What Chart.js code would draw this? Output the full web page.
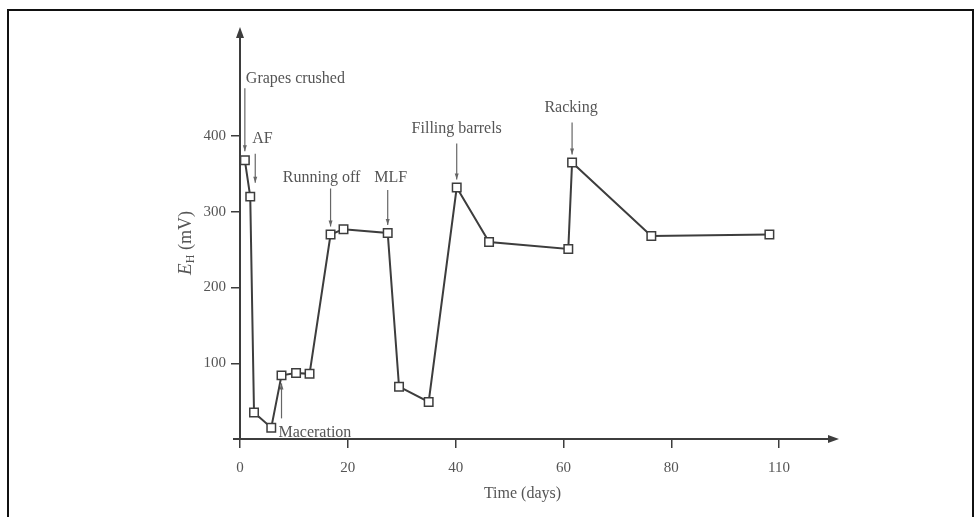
<!DOCTYPE html>
<html>
<head>
<meta charset="utf-8">
<script src="https://cdn.jsdelivr.net/npm/chart.js@4.4.0/dist/chart.umd.min.js"></script>
<style>
  html, body { margin: 0; padding: 0; background: #fff; overflow: hidden; }
  #frame { position: absolute; left: 7px; top: 9px; width: 963px; height: 520px; border: 2px solid #111; border-bottom: none; }
  #wrap { position: absolute; left: 0; top: 0; width: 977px; height: 517px; }
</style>
</head>
<body>
<div id="frame"></div>
<div id="wrap"><canvas id="ehChart"></canvas></div>
<script>
// x values are in printed-axis units (the figure squeezes 80-110 days into one step)
const timePos = [0.9, 1.9, 2.6, 5.8, 7.7, 10.4, 12.9, 16.8, 19.2, 27.4, 29.5, 35.0, 40.2, 46.2, 60.9, 61.6, 76.3, 98.2];
const ehValues = [368, 320, 35, 15, 84, 87, 86, 270, 277, 272, 69, 49, 332, 260, 251, 365, 268, 270];

const xTickValues = [0, 20, 40, 60, 80, 100];
const xTickLabels = ['0', '20', '40', '60', '80', '110'];
const yTickValues = [100, 200, 300, 400];

const eventLabels = ['Grapes crushed', 'AF', 'Maceration', 'Running off', 'MLF', 'Filling barrels', 'Racking'];
const eventPoints = [0, 1, 4, 7, 9, 12, 15];

const INK = '#3d3d3d';
const TEXT = '#555';
const FONT = '"Liberation Serif", "DejaVu Serif", serif';

// how each label sits relative to the point it marks (pixels)
const eventStyle = {
  'Grapes crushed': { align: 'left', dx: 1, dy: -81, ax: 0, from: -72, to: -9 },
  'AF': { align: 'left', dx: 2, dy: -58, ax: 5, from: -43, to: -14 },
  'Maceration': { align: 'left', dx: -3, dy: 57, ax: 0, from: 43, to: 8 },
  'Running off': { align: 'center', dx: -9, dy: -57, ax: 0, from: -46, to: -8 },
  'MLF': { align: 'center', dx: 3, dy: -55, ax: 0, from: -43, to: -8 },
  'Filling barrels': { align: 'center', dx: 0, dy: -59, ax: 0, from: -44, to: -8 },
  'Racking': { align: 'center', dx: -1, dy: -55, ax: 0, from: -40, to: -8 }
};

function arrowHead(ctx, x, y, dir, len, half) {
  ctx.beginPath();
  if (dir === 'down') {
    ctx.moveTo(x, y); ctx.lineTo(x - half, y - len); ctx.lineTo(x + half, y - len);
  } else if (dir === 'up') {
    ctx.moveTo(x, y); ctx.lineTo(x - half, y + len); ctx.lineTo(x + half, y + len);
  } else {
    ctx.moveTo(x, y); ctx.lineTo(x - len, y - half); ctx.lineTo(x - len, y + half);
  }
  ctx.closePath();
  ctx.fill();
}

const figurePlugin = {
  id: 'figure',
  beforeDatasetsDraw(chart) {
    const ctx = chart.ctx;
    const a = chart.chartArea;
    ctx.save();
    ctx.strokeStyle = INK;
    ctx.fillStyle = INK;
    ctx.lineWidth = 2;
    // axes with arrow heads
    ctx.beginPath();
    ctx.moveTo(a.left, a.bottom);
    ctx.lineTo(a.left, a.top + 6);
    ctx.moveTo(a.left - 7, a.bottom);
    ctx.lineTo(a.right, a.bottom);
    ctx.stroke();
    arrowHead(ctx, a.left, a.top - 3, 'up', 11, 4);
    arrowHead(ctx, a.right + 6, a.bottom, 'right', 11, 4);

    // event arrows and labels
    const pts = chart.getDatasetMeta(0).data;
    ctx.lineWidth = 1.2;
    ctx.font = '16px ' + FONT;
    ctx.textBaseline = 'middle';
    eventLabels.forEach((label, i) => {
      const p = pts[eventPoints[i]];
      const s = eventStyle[label];
      const x = p.x + s.ax;
      ctx.strokeStyle = '#666';
      ctx.fillStyle = '#666';
      ctx.beginPath();
      ctx.moveTo(x, p.y + s.from);
      ctx.lineTo(x, p.y + s.to);
      ctx.stroke();
      arrowHead(ctx, x, p.y + s.to, s.to < s.from ? 'up' : 'down', 6, 2);
      ctx.fillStyle = TEXT;
      ctx.textAlign = s.align;
      ctx.fillText(label, p.x + s.dx, p.y + s.dy);
    });

    // axis titles
    ctx.fillStyle = TEXT;
    ctx.textAlign = 'center';
    ctx.font = '16px ' + FONT;
    ctx.fillText('Time (days)', (a.left + a.right) / 2 - 14, 494);

    ctx.translate(186, 243);
    ctx.rotate(-Math.PI / 2);
    ctx.textAlign = 'left';
    ctx.font = 'italic 19px ' + FONT;
    const w1 = ctx.measureText('E').width;
    ctx.font = '12px ' + FONT;
    const w2 = ctx.measureText('H').width;
    ctx.font = '18px ' + FONT;
    const w3 = ctx.measureText(' (mV)').width;
    let x0 = -(w1 + w2 + w3) / 2;
    ctx.font = 'italic 19px ' + FONT;
    ctx.fillText('E', x0, 0);
    ctx.font = '12px ' + FONT;
    ctx.fillText('H', x0 + w1, 5);
    ctx.font = '18px ' + FONT;
    ctx.fillText(' (mV)', x0 + w1 + w2, 0);
    ctx.restore();
  }
};

const ctx = document.getElementById('ehChart').getContext('2d');

new Chart(ctx, {
  type: 'line',
  data: {
    datasets: [{
      data: timePos.map((t, i) => ({ x: t, y: ehValues[i] })),
      borderColor: INK,
      borderWidth: 2,
      pointStyle: 'rect',
      pointRadius: 6,
      pointBorderWidth: 1.5,
      pointBorderColor: INK,
      pointBackgroundColor: '#fff',
      tension: 0
    }]
  },
  options: {
    responsive: true,
    maintainAspectRatio: false,
    animation: false,
    layout: { padding: { top: 30, right: 144, left: 0, bottom: 0 } },
    plugins: { legend: { display: false }, tooltip: { enabled: false } },
    scales: {
      x: {
        type: 'linear',
        min: 0,
        max: 110,
        afterFit: scale => { scale.height = 78; },
        afterBuildTicks: scale => { scale.ticks = xTickValues.map(v => ({ value: v })); },
        border: { display: false },
        grid: { drawOnChartArea: false, drawTicks: true, tickLength: 9, color: INK, lineWidth: 1.5 },
        ticks: {
          color: TEXT,
          padding: 11,
          font: { family: FONT, size: 15 },
          callback: v => xTickLabels[xTickValues.indexOf(v)]
        }
      },
      y: {
        min: 0,
        max: 540,
        afterFit: scale => { scale.width = 240; },
        afterBuildTicks: scale => { scale.ticks = yTickValues.map(v => ({ value: v })); },
        border: { display: false },
        grid: { drawOnChartArea: false, drawTicks: true, tickLength: 9, color: INK, lineWidth: 1.5 },
        ticks: {
          color: TEXT,
          padding: 5,
          font: { family: FONT, size: 15 }
        }
      }
    }
  },
  plugins: [figurePlugin]
});
</script>
</body>
</html>
